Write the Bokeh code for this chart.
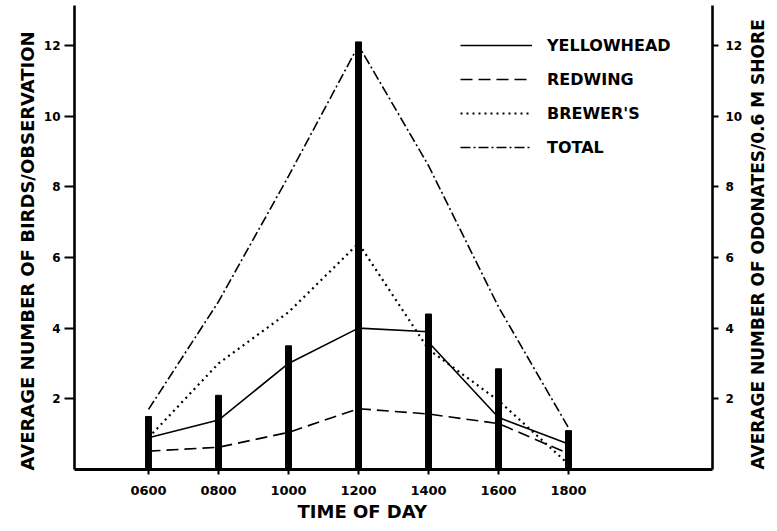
import math
from bokeh.plotting import figure
from bokeh.models import (Range1d, LinearAxis, FixedTicker, Legend, LegendItem,
                          Title)
from bokeh.embed import file_html
from bokeh.resources import INLINE

# ---- data ----
hours = [6, 8, 10, 12, 14, 16, 18]
hour_labels = ["0600", "0800", "1000", "1200", "1400", "1600", "1800"]
hours_yellowhead = [6, 8, 10, 12, 14, 14, 16, 18]
yellowhead = [0.9, 1.4, 3.0, 4.0, 3.9, 3.6, 1.47, 0.72]
redwing = [0.52, 0.63, 1.05, 1.72, 1.57, 1.30, 0.45]
brewers = [0.9, 3.0, 4.45, 6.4, 3.4, 1.95, 0.15]
total = [1.7, 4.75, 8.3, 12.0, 8.6, 4.6, 1.18]
odonates = [1.5, 2.1, 3.5, 12.1, 4.4, 2.85, 1.1]
y_ticks = [2, 4, 6, 8, 10, 12]
left_title = "AVERAGE NUMBER OF BIRDS/OBSERVATION"
right_title = "AVERAGE NUMBER OF ODONATES/0.6 M SHORE"
x_title = "TIME OF DAY"

FONT = "DejaVu Sans"

p = figure(frame_width=638, frame_height=464,
           min_border_left=74, min_border_right=65,
           min_border_top=5, min_border_bottom=55,
           x_range=Range1d(3.886, 22.114), y_range=Range1d(0, 13.13),
           output_backend="svg", toolbar_location=None, tools="",
           x_axis_location=None, y_axis_location=None)
p.outline_line_color = None
p.xgrid.visible = False
p.ygrid.visible = False
p.background_fill_color = "white"
p.border_fill_color = "white"

p.extra_y_ranges = {"right": Range1d(0, 13.13)}

def style_axis(ax, tick_out, standoff, size):
    ax.axis_line_width = 2.6
    ax.axis_line_color = "black"
    ax.major_tick_line_width = 2
    ax.major_tick_line_color = "black"
    ax.major_tick_out = tick_out
    ax.major_tick_in = 0
    ax.minor_tick_line_color = None
    ax.major_label_standoff = standoff
    ax.major_label_text_font = FONT
    ax.major_label_text_font_style = "bold"
    ax.major_label_text_font_size = size
    ax.major_label_text_color = "black"

xaxis = LinearAxis(ticker=FixedTicker(ticks=hours))
xaxis.major_label_overrides = {h: l for h, l in zip(hours, hour_labels)}
style_axis(xaxis, 5, 11, "13px")
xaxis.axis_line_width = 3
p.add_layout(xaxis, "below")

lax = LinearAxis(ticker=FixedTicker(ticks=y_ticks))
style_axis(lax, 10, 4, "12px")
p.add_layout(lax, "left")

rax = LinearAxis(ticker=FixedTicker(ticks=y_ticks), y_range_name="right")
style_axis(rax, 6, 7, "12px")
p.add_layout(rax, "right")

# right-hand title: a label-only axis whose single label starts at the bottom
rtitle = LinearAxis(ticker=FixedTicker(ticks=[0]), y_range_name="right")
rtitle.major_label_overrides = {0: right_title}
rtitle.axis_line_color = None
rtitle.major_tick_line_color = None
rtitle.minor_tick_line_color = None
rtitle.major_tick_out = 0
rtitle.major_tick_in = 0
rtitle.major_label_orientation = math.pi / 2
rtitle.major_label_standoff = 12
rtitle.major_label_text_font = FONT
rtitle.major_label_text_font_style = "bold"
rtitle.major_label_text_font_size = "17px"
rtitle.major_label_text_color = "black"
p.add_layout(rtitle, "right")

# left and bottom titles
p.add_layout(Title(text=left_title, align="left", offset=-1, standoff=6,
                   text_font=FONT, text_font_style="bold",
                   text_font_size="18px", text_color="black"), "left")
p.add_layout(Title(text=x_title, align="left", offset=223, standoff=2,
                   text_font=FONT, text_font_style="bold",
                   text_font_size="18px", text_color="black"), "below")

# odonate bars (right axis)
p.vbar(x=hours, top=odonates, bottom=0, width=0.17, color="black",
       y_range_name="right")

r_y = p.line(hours_yellowhead, yellowhead, line_color="black", line_width=1.6)
r_r = p.line(hours, redwing, line_color="black", line_width=1.6,
             line_dash="12 6")
r_b = p.line(hours, brewers, line_color="black", line_width=2.2,
             line_dash="2 4")
r_t = p.line(hours, total, line_color="black", line_width=1.6,
             line_dash="10 3 2 3")

legend = Legend(items=[LegendItem(label="YELLOWHEAD", renderers=[r_y]),
                       LegendItem(label="REDWING", renderers=[r_r]),
                       LegendItem(label="BREWER'S", renderers=[r_b]),
                       LegendItem(label="TOTAL", renderers=[r_t])],
                location=(386, 312), orientation="vertical",
                glyph_width=72, glyph_height=20, label_height=20,
                spacing=14, label_standoff=15, padding=0, margin=0,
                border_line_color=None, background_fill_alpha=0,
                label_text_font=FONT, label_text_font_style="bold",
                label_text_font_size="16px", label_text_color="black")
p.add_layout(legend, "center")

open("out.html", "w").write(file_html(p, INLINE))
